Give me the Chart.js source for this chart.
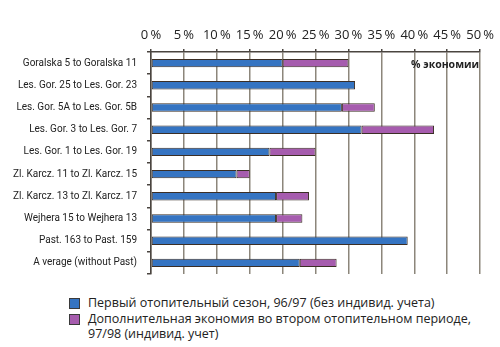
<!DOCTYPE html>
<html lang="ru">
<head>
<meta charset="utf-8">
<title>% экономии</title>
<script src="https://cdn.jsdelivr.net/npm/chart.js@4/dist/chart.umd.min.js"></script>
<style>
    html, body {
        margin: 0;
        padding: 0;
        background: #fff;
    }
    .chart-wrap {
        position: relative;
        width: 500px;
        height: 290px;
    }
    .legend {
        margin: 5px 0 0 69px;
        font-family: "Open Sans", sans-serif;
        font-size: 12.5px;
        line-height: 15.5px;
        color: #222;
    }
    .legend-item {
        position: relative;
        padding-left: 19px;
    }
    .legend-box {
        position: absolute;
        left: 0;
        top: 3px;
        width: 9px;
        height: 9px;
        border: 1px solid #3a3a3a;
    }
</style>
</head>
<body>
<div class="chart-wrap">
    <canvas id="savingsChart"></canvas>
</div>
<div class="legend" id="savingsLegend"></div>

<script>
const categories = [
    'Goralska 5 to Goralska 11',
    'Les. Gor. 25 to Les. Gor. 23',
    'Les. Gor. 5A to Les. Gor. 5B',
    'Les. Gor. 3 to Les. Gor. 7',
    'Les. Gor. 1 to Les. Gor. 19',
    'Zl. Karcz. 11 to Zl. Karcz. 15',
    'Zl. Karcz. 13 to Zl. Karcz. 17',
    'Wejhera 15 to Wejhera 13',
    'Past. 163 to Past. 159',
    'A verage (without Past)'
];

// первый сезон, % экономии
const firstSeason = [20, 31, 29, 32, 18, 13, 19, 19, 39, 22.6];
// дополнительная экономия во втором сезоне (null = нет данных)
const secondSeasonExtra = [10, null, 5, 11, 7, 2, 5, 4, null, 5.6];

const xTicks = [0, 5, 10, 15, 20, 25, 30, 35, 40, 45, 50];

const legendLabels = [
    'Первый отопительный сезон, 96/97 (без индивид. учета)',
    'Дополнительная экономия во втором отопительном периоде,<br>97/98 (индивид. учет)'
];

const colors = {
    blue: '#3574c2',
    purple: '#a65cae',
    border: '#3b2e25',
    grid: '#8c867b',
    axis: '#4a4540',
    text: '#222'
};

// подпись "% экономии" в правом верхнем углу области графика
const unitLabel = {
    id: 'unitLabel',
    afterDraw(chart) {
        const { ctx, chartArea } = chart;
        ctx.save();
        ctx.font = 'bold 10.5px "Open Sans", sans-serif';
        ctx.fillStyle = colors.text;
        ctx.textAlign = 'right';
        ctx.textBaseline = 'middle';
        ctx.fillText('% экономии', chartArea.right - 1, chartArea.top + 13);
        ctx.restore();
    }
};

function buildLegend(datasets) {
    const box = document.getElementById('savingsLegend');
    box.innerHTML = datasets.map((ds, i) => `
        <div class="legend-item">
            <span class="legend-box" style="background:${ds.backgroundColor}"></span>${legendLabels[i]}
        </div>
    `).join('');
}

const datasets = [{
    label: 'Первый отопительный сезон, 96/97',
    data: firstSeason,
    backgroundColor: colors.blue
}, {
    label: 'Дополнительная экономия, 97/98',
    data: secondSeasonExtra,
    backgroundColor: colors.purple
}].map(ds => Object.assign(ds, {
    borderColor: colors.border,
    borderWidth: 1,
    borderSkipped: false,
    barPercentage: 0.38,
    categoryPercentage: 1
}));

new Chart(document.getElementById('savingsChart'), {
    type: 'bar',
    data: { labels: categories, datasets },
    options: {
        indexAxis: 'y',
        responsive: true,
        maintainAspectRatio: false,
        animation: false,
        layout: { padding: { left: 0, right: 19, top: 0, bottom: 7 } },
        plugins: {
            legend: { display: false },
            tooltip: { enabled: false }
        },
        scales: {
            x: {
                position: 'top',
                stacked: true,
                min: 0,
                max: 50,
                afterBuildTicks: s => { s.ticks = xTicks.map(v => ({ value: v })); },
                afterFit: s => { s.height = 52; },
                grid: {
                    color: colors.grid,
                    lineWidth: 1.5,
                    tickLength: 3,
                    tickColor: colors.axis
                },
                border: { color: colors.axis, width: 1.5 },
                ticks: {
                    padding: 6,
                    maxRotation: 0,
                    minRotation: 0,
                    autoSkip: false,
                    color: colors.text,
                    font: { family: 'Open Sans', size: 13 },
                    callback: v => v + '\u2009%'
                }
            },
            y: {
                stacked: true,
                afterFit: s => { s.width = 151; },
                grid: {
                    drawOnChartArea: false,
                    tickLength: 4,
                    tickColor: colors.axis,
                    lineWidth: 1.5
                },
                border: { color: colors.axis, width: 1.5 },
                ticks: {
                    padding: 10,
                    color: colors.text,
                    font: { family: 'Roboto', size: 10 }
                }
            }
        }
    },
    plugins: [unitLabel]
});

buildLegend(datasets);
</script>
</body>
</html>
